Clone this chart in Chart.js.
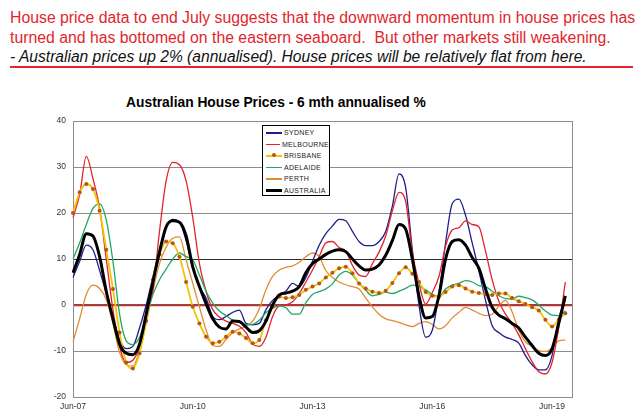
<!DOCTYPE html>
<html>
<head>
<meta charset="utf-8">
<script src="https://cdn.jsdelivr.net/npm/chart.js@4.4.1/dist/chart.umd.min.js"></script>
<style>
  body { margin: 0; width: 642px; height: 416px; background: #fff; position: relative; overflow: hidden;
         font-family: "Liberation Sans", Arial, sans-serif; }
  #head { position: absolute; left: 10px; top: 8px; font-size: 15.8px; line-height: 19.5px; color: #e1262b; white-space: nowrap; }
  #head .sub { color: #111; font-style: italic; font-size: 15.6px; }
  #rule { position: absolute; left: 10px; top: 66px; width: 623px; height: 1.5px; background: #e1262b; }
  #title { position: absolute; left: 0; top: 95px; width: 552px; text-align: center; font-weight: bold; font-size: 13.8px; line-height: 16px; color: #000; }
  #wrap { position: absolute; left: 0; top: 85px; width: 642px; height: 331px; }
  #legend { position: absolute; left: 262px; top: 125px; width: 66px; height: 68px; border: 1px solid #000; background: #fff;
            padding-top: 1px; box-sizing: content-box; }
  #legend .row { height: 11.5px; display: flex; align-items: center; font-size: 7px; color: #222; letter-spacing: 0.3px; }
  #legend .swatch { position: relative; width: 16px; margin: 0 2px 0 3px; }
  #legend .dot { position: absolute; left: 6px; top: -2px; width: 4px; height: 4px; border-radius: 2px; background: #b4561e; }
</style>
</head>
<body>
<div id="head">House price data to end July suggests that the downward momentum in house prices has<br>turned and has bottomed on the eastern seaboard.&nbsp; But other markets still weakening.<br><span class="sub">- Australian prices up 2% (annualised). House prices will be relatively flat from here.</span></div>
<div id="rule"></div>
<div id="title">Australian House Prices - 6 mth annualised %</div>
<div id="wrap"><canvas id="chart" width="642" height="331"></canvas></div>
<div id="legend"></div>
<script>
// bi-monthly points, Jun-07 onwards
const months = ['Jun-07','Aug-07','Oct-07','Dec-07','Feb-08','Apr-08',
  'Jun-08','Aug-08','Oct-08','Dec-08','Feb-09','Apr-09',
  'Jun-09','Aug-09','Oct-09','Dec-09','Feb-10','Apr-10',
  'Jun-10','Aug-10','Oct-10','Dec-10','Feb-11','Apr-11',
  'Jun-11','Aug-11','Oct-11','Dec-11','Feb-12','Apr-12',
  'Jun-12','Aug-12','Oct-12','Dec-12','Feb-13','Apr-13',
  'Jun-13','Aug-13','Oct-13','Dec-13','Feb-14','Apr-14',
  'Jun-14','Aug-14','Oct-14','Dec-14','Feb-15','Apr-15',
  'Jun-15','Aug-15','Oct-15','Dec-15','Feb-16','Apr-16',
  'Jun-16','Aug-16','Oct-16','Dec-16','Feb-17','Apr-17',
  'Jun-17','Aug-17','Oct-17','Dec-17','Feb-18','Apr-18',
  'Jun-18','Aug-18','Oct-18','Dec-18','Feb-19','Apr-19',
  'Jun-19','Aug-19','Oct-19','Dec-19'];

const sydney = [6,9.5,13,12,7.5,2.5,-2.5,-7.5,-9.5,-9,
  -5,0,6,12,17,18.6,18,14,8,4,
  1.5,-2.5,-3.2,-2.5,-1.6,-1.1,-4,-4.3,-4,-1,
  1,2,3,4.7,4,6,9.5,13,15.5,17.2,
  18.6,18.3,16,13.8,12.9,12.9,13.8,16,21.5,28.5,
  25.5,12,0,-7,-5.5,2.5,13.5,22,23,19.5,
  13.5,7.5,1,-4.5,-6,-7,-7.5,-8.3,-11,-13,
  -14.1,-14.1,-11,-3,1];

const melbourne = [19,24,32.3,27.5,21,10,-1,-9,-12.5,-12,
  -9,-1.5,3,16,27,31,30.5,27,19,9,
  3,-1,-2.6,-3.5,-4,-4.6,-6,-8.5,-9,-7,
  -2.5,-0.2,0,0.7,2.5,5,7.6,10.5,13.5,13.8,
  12.5,11.7,8.6,6.5,6.2,9,11.5,15,20.5,24.5,
  22.5,11.5,4.7,0.2,2.7,6.2,12.8,16.3,16.8,18.3,
  17.5,17,11.7,5.5,0.8,-2,-4,-6.5,-9.5,-12.3,
  -14.5,-15,-12.5,-5,5];

const brisbane = [20,24.5,26.3,25.2,20.5,12,3.5,-6,-12.5,-13.8,
  -10.5,-3.5,5.5,11,13.8,13.4,10.5,5,-0.4,-4,
  -6.9,-8.3,-8,-6.9,-5.8,-6.2,-7.2,-8.3,-7.6,-3.3,
  -0.4,1.8,1.5,1.7,2.2,3.3,4,4.7,6,7,
  8,8.3,6.9,4.7,3.6,2.9,2.6,3.1,4.8,6.9,
  8.2,6.8,5,2.8,2,1.8,2.8,4,4.3,3.6,
  2.9,2.6,2.4,2.2,2.5,2.5,1.5,0.8,0.2,-0.5,
  -1.2,-3.2,-4.7,-3.2,-1.8];

const adelaide = [10,13.5,17.5,21,22,18.5,9.5,-2,-7.8,-8.6,
  -7,-2.5,2.2,5.5,7.8,10,11.3,10.5,9.8,6.5,
  3,0.4,-1.3,-2.3,-3.3,-3.8,-4.3,-4.2,-3.3,-1.7,
  -0.7,-0.2,-0.6,-2,-2,0.5,2.3,2.9,3.5,4.6,
  6.5,7.3,6.5,4.7,3.2,2,2.3,2.8,2.5,3,
  3.6,4.3,4,3.3,2.3,1.8,3.5,4.3,4.7,5.3,
  5,4.2,4,3,2,1.4,1.3,1.9,1.6,1.1,
  0,-1.3,-2.2,-2.3,-1.3];

const perth = [-8,-3,2.3,4.3,3.6,1.2,-4,-10.3,-13,-13.3,
  -9.8,-4,3,9,12.6,14.5,14.8,9.8,4.7,-0.4,
  -5.4,-8.8,-9,-7.5,-6,-5.2,-4.6,-3.5,-0.8,3.3,
  6.2,7.6,8.2,8.5,9.3,10.5,11.3,10.5,7.5,6,
  5,4.4,4,3.5,1.5,-0.4,-2,-3,-3.4,-3.8,
  -4.3,-4.7,-4,-3.6,-4.2,-5.2,-4.5,-2.8,-1.6,-0.5,
  -1.1,-1.8,-2.3,-2,-0.3,1,-1.5,-5.5,-8,-9,
  -9.9,-10.1,-9.3,-7.8,-7.6];

const australia = [7,11,15.5,15,10.5,3,-3,-8.5,-10.5,-10.8,
  -8.5,-2,5,11.5,17,18.3,18,15,8.3,4,
  0.3,-3,-4.8,-5.2,-3.5,-3.6,-4.8,-6,-5.6,-3.5,
  0,2.2,2.6,3,4,7,9,10,11,11.7,
  12,11.6,10,8.5,7.6,7.8,8.7,10.8,14,17.5,
  16.5,10,2,-2.8,-2.5,2,10,13.8,14.2,13,
  10.3,8,3.5,-0.5,-2.2,-3,-4,-5,-7,-8.8,
  -10.5,-11,-9.5,-4,2];

const yTicks = [-20, -10, 0, 10, 20, 30, 40];

function line(label, data, color, width, order) {
    return {
        label: label, data: data, borderColor: color, backgroundColor: color,
        borderWidth: width, pointRadius: 0, order: order,
        cubicInterpolationMode: 'monotone'
    };
}

const datasets = [
    line('SYDNEY', sydney, '#1e1e8c', 1.3, 5),
    line('MELBOURNE', melbourne, '#e0242a', 1.3, 4),
    Object.assign(line('BRISBANE', brisbane, '#f2c500', 1.8, 2), {
        pointRadius: 2, pointBackgroundColor: '#b4561e', pointBorderWidth: 0
    }),
    line('ADELAIDE', adelaide, '#22a862', 1.3, 3),
    line('PERTH', perth, '#e08c33', 1.3, 6),
    line('AUSTRALIA', australia, '#000000', 3, 1)
];

// right-hand edge of the plot box
const frame = {
    id: 'frame',
    beforeDatasetsDraw(chart) {
        const a = chart.chartArea, c = chart.ctx;
        c.save();
        c.strokeStyle = '#8c8c8c';
        c.lineWidth = 1;
        c.beginPath();
        c.moveTo(a.right + 0.5, a.top);
        c.lineTo(a.right + 0.5, a.bottom);
        c.stroke();
        c.restore();
    }
};

const tickFont = { family: '"Liberation Sans", Arial, sans-serif', size: 8.5 };

new Chart(document.getElementById('chart').getContext('2d'), {
    type: 'line',
    data: { labels: months, datasets: datasets },
    options: {
        responsive: false,
        animation: false,
        layout: { padding: { left: 0, right: 70, top: 36, bottom: 0 } },
        plugins: { legend: { display: false }, tooltip: { enabled: false } },
        scales: {
            x: {
                grid: { display: false, drawTicks: false },
                border: { display: true, color: '#8c8c8c', width: 1 },
                ticks: {
                    autoSkip: false, maxRotation: 0, padding: 5, color: '#333', font: tickFont,
                    callback: (v, i) => (i % 18 === 0 ? months[i] : '')
                },
                afterFit: s => { s.height = 19; }
            },
            y: {
                min: -20, max: 40,
                afterBuildTicks: s => { s.ticks = yTicks.map(v => ({ value: v })); },
                grid: {
                    drawTicks: false,
                    color: c => c.tick.value === 0 ? '#a83a3a' : (c.tick.value === 10 ? '#2a2a2a' : '#8c8c8c'),
                    lineWidth: c => c.tick.value === 0 ? 2.2 : 1
                },
                border: { display: true, color: '#8c8c8c', width: 1 },
                ticks: { padding: 7, color: '#333', font: tickFont },
                afterFit: s => { s.width = 73; }
            }
        }
    },
    plugins: [frame]
});

// legend box inside the plot
const legend = document.getElementById('legend');
datasets.forEach(d => {
    const row = document.createElement('div');
    row.className = 'row';
    const sw = document.createElement('div');
    sw.className = 'swatch';
    sw.style.height = (d.label === 'AUSTRALIA' ? 2.5 : 1.5) + 'px';
    sw.style.background = d.borderColor;
    if (d.label === 'BRISBANE') {
        const dot = document.createElement('div');
        dot.className = 'dot';
        sw.appendChild(dot);
    }
    row.appendChild(sw);
    row.appendChild(document.createTextNode(d.label));
    legend.appendChild(row);
});
</script>
</body>
</html>
